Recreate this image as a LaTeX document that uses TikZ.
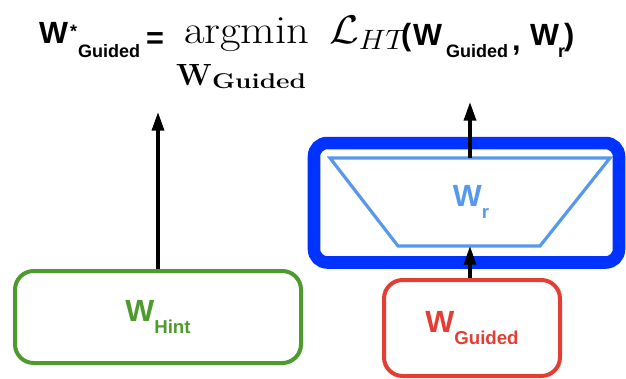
\RequirePackage{fix-cm}
\documentclass[tikz,border=0pt]{standalone}
\usepackage{fontspec}
\setsansfont{Liberation Sans}
\usetikzlibrary{arrows.meta}
\definecolor{hgreen}{RGB}{78,154,46}
\definecolor{hred}{RGB}{226,62,52}
\definecolor{hblue}{RGB}{0,51,255}
\definecolor{lblue}{RGB}{86,152,236}
\newcommand{\wlab}[1]{{\fontsize{23}{23}\selectfont W}\raisebox{-8.5pt}{\fontsize{14}{15}\selectfont #1}}
\begin{document}
\begin{tikzpicture}[x=0.75pt,y=-0.75pt,
  fw/.style={anchor=base west, inner sep=0pt, outer sep=0pt},
  big/.style={font=\sffamily\bfseries\fontsize{23}{23}\selectfont},
  sub/.style={font=\sffamily\bfseries\fontsize{13.5}{14}\selectfont},
  box/.style={draw, line width=3pt, rounded corners=14pt, inner sep=0pt, font=\sffamily\bfseries},
  arr/.style={line width=2.6pt, -{Triangle[length=14pt,width=9pt]}},
  trap/.style={draw=lblue, line width=2.4pt, line join=miter}]
\useasboundingbox (0,0) rectangle (626,379);
% highlighted blue frame
\node[draw=hblue, line width=9.4pt, rounded corners=10pt, minimum width=228.75pt, minimum height=89.6pt, inner sep=0pt] (frame) at (466.5,202.75) {};
% trapezoid
\draw[trap] (330,158) -- (610,158) -- (540,246) -- (398,246) -- cycle;
\coordinate (trT) at (470,158);
\coordinate (trB) at (470,246);
\node[font=\sffamily\bfseries, text=lblue, inner sep=0pt] (wr) at (471,202) {\wlab{r}};
% boxes
\node[box, draw=hgreen, text=hgreen, minimum width=214.5pt, minimum height=69pt] (hint) at (158,317) {\wlab{Hint}};
\node[box, draw=hred, text=hred, minimum width=132pt, minimum height=72pt] (guided) at (472,328) {\wlab{Guided}};
% arrows
\coordinate (tipL) at (158,112);
\coordinate (tipR) at (470,102);
\draw[arr] (hint.north) -- (tipL);
\draw[arr] (trT) -- (tipR);
\draw[arr] (trB |- guided.north) -- (trB);
% formula
\node[fw,big] (f1) at (39,43) {W};
\node[fw,sub] (f2) at (70,37) {*};
\node[fw,sub] (f3) at (78,57) {Guided};
\node[fw,big] (f4) at (146,48) {=};
\node[fw,font=\rmfamily\fontsize{30}{30}\selectfont] (f5) at (184,43) {\scalebox{1.12}[1]{argmin}};
\node[fw,font=\fontsize{30}{30}\selectfont] (f6) at (329,43) {\scalebox{1.08}[1]{$\mathcal{L}_{HT}$}};
\node[fw,font=\rmfamily\bfseries\fontsize{23}{23}\selectfont] (f7) at (176,85) {W};
\node[fw,font=\rmfamily\bfseries\fontsize{16}{16}\selectfont] (f8) at (212,88) {\scalebox{1.23}[1]{Guided}};
\node[fw,big] (f9) at (401,45) {(};
\node[fw,big] (f10) at (413,45) {W};
\node[fw,sub] (f11) at (446,57) {Guided};
\node[fw,big] (f12) at (512,50) {,};
\node[fw,big] (f13) at (530,45) {W};
\node[fw,sub] (f14) at (558,57) {r};
\node[fw,big] (f15) at (564,45) {)};
\end{tikzpicture}
\end{document}
